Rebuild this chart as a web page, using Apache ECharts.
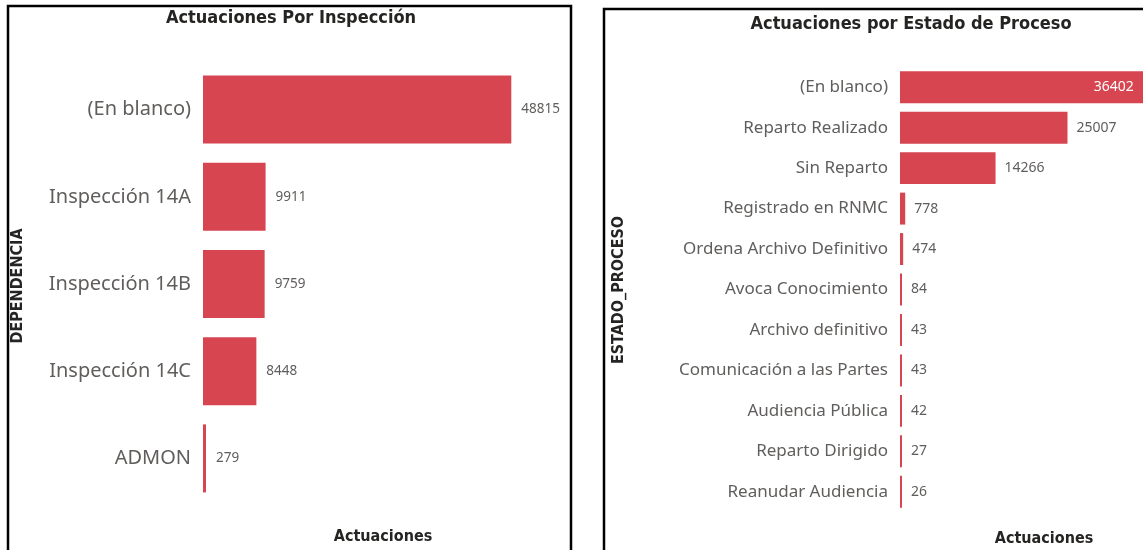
<!DOCTYPE html>
<html>
<head>
<meta charset="utf-8">
<script src="https://cdn.jsdelivr.net/npm/echarts@6/dist/echarts.min.js"></script>
<style>
html,body{margin:0;padding:0;background:#fff;}
#chart{width:1143px;height:550px;}
</style>
</head>
<body>
<div id="chart"></div>
<script>
// Left chart data
const depCategories = ['(En blanco)', 'Inspección 14A', 'Inspección 14B', 'Inspección 14C', 'ADMON'];
const depValues = [48815, 9911, 9759, 8448, 279];
// Right chart data
const estCategories = ['(En blanco)', 'Reparto Realizado', 'Sin Reparto', 'Registrado en RNMC',
  'Ordena Archivo Definitivo', 'Avoca Conocimiento', 'Archivo definitivo',
  'Comunicación a las Partes', 'Audiencia Pública', 'Reparto Dirigido', 'Reanudar Audiencia'];
const estValues = [36402, 25007, 14266, 778, 474, 84, 43, 43, 42, 27, 26];

const BAR = '#D64550';
const LABEL_GRAY = '#605E5C';
const DARK = '#252423';
const SANS = '"Noto Sans", "Open Sans", sans-serif';
const TITLE_FONT = '"DejaVu Sans Condensed", "DejaVu Sans", sans-serif';

const estData = estValues.map((v, i) => i === 0
  ? { value: v, label: { position: 'insideRight', color: '#fff', distance: 10 } }
  : v);

const chart = echarts.init(document.getElementById('chart'), null, { renderer: 'canvas' });
chart.setOption({
  animation: false,
  backgroundColor: '#fff',
  title: [
    { text: 'Actuaciones Por Inspección', left: 286, top: 4, textAlign: 'center',
      textStyle: { fontFamily: TITLE_FONT, fontWeight: 'bold', fontSize: 18, color: DARK } },
    { text: 'Actuaciones por Estado de Proceso', left: 906, top: 10, textAlign: 'center',
      textStyle: { fontFamily: TITLE_FONT, fontWeight: 'bold', fontSize: 18, color: DARK } }
  ],
  grid: [
    { left: 203, top: 66, width: 360, height: 436, outerBoundsMode: 'none' },
    { left: 900, top: 67, width: 288, height: 445, outerBoundsMode: 'none' }
  ],
  xAxis: [
    { gridIndex: 0, type: 'value', min: 0, max: 57000, show: false },
    { gridIndex: 1, type: 'value', min: 0, max: 43000, show: false }
  ],
  yAxis: [
    { gridIndex: 0, type: 'category', data: depCategories, inverse: true,
      axisLine: { show: false }, axisTick: { show: false }, splitLine: { show: false },
      axisLabel: { margin: 12, fontFamily: SANS, fontSize: 20, color: LABEL_GRAY } },
    { gridIndex: 1, type: 'category', data: estCategories, inverse: true,
      axisLine: { show: false }, axisTick: { show: false }, splitLine: { show: false },
      axisLabel: { margin: 12, fontFamily: SANS, fontSize: 17, color: LABEL_GRAY } }
  ],
  series: [
    { type: 'bar', xAxisIndex: 0, yAxisIndex: 0, data: depValues,
      barCategoryGap: '22%', barMinHeight: 3,
      itemStyle: { color: BAR },
      label: { show: true, position: 'right', distance: 10, fontFamily: SANS, fontSize: 13.5, color: LABEL_GRAY } },
    { type: 'bar', xAxisIndex: 1, yAxisIndex: 1, data: estData,
      barCategoryGap: '21%', barMinHeight: 2,
      itemStyle: { color: BAR },
      label: { show: true, position: 'right', distance: 9, fontFamily: SANS, fontSize: 14, color: LABEL_GRAY } }
  ],
  graphic: [
    { type: 'rect', shape: { x: 8, y: 6, width: 563, height: 560 },
      style: { fill: null, stroke: '#000', lineWidth: 2.5 }, z: 100 },
    { type: 'rect', shape: { x: 604, y: 9, width: 600, height: 560 },
      style: { fill: null, stroke: '#000', lineWidth: 2.5 }, z: 100 },
    { type: 'text', x: 18, y: 286, rotation: Math.PI / 2,
      style: { text: 'DEPENDENCIA', fontFamily: TITLE_FONT, fontWeight: 'bold', fontSize: 16, fill: DARK,
        align: 'center', verticalAlign: 'middle' } },
    { type: 'text', x: 619, y: 290, rotation: Math.PI / 2,
      style: { text: 'ESTADO_PROCESO', fontFamily: TITLE_FONT, fontWeight: 'bold', fontSize: 16, fill: DARK,
        align: 'center', verticalAlign: 'middle' } },
    { type: 'text', x: 383, y: 537,
      style: { text: 'Actuaciones', fontFamily: TITLE_FONT, fontWeight: 'bold', fontSize: 16, fill: DARK,
        align: 'center', verticalAlign: 'middle' } },
    { type: 'text', x: 1044, y: 539,
      style: { text: 'Actuaciones', fontFamily: TITLE_FONT, fontWeight: 'bold', fontSize: 16, fill: DARK,
        align: 'center', verticalAlign: 'middle' } }
  ]
});
</script>
</body>
</html>
